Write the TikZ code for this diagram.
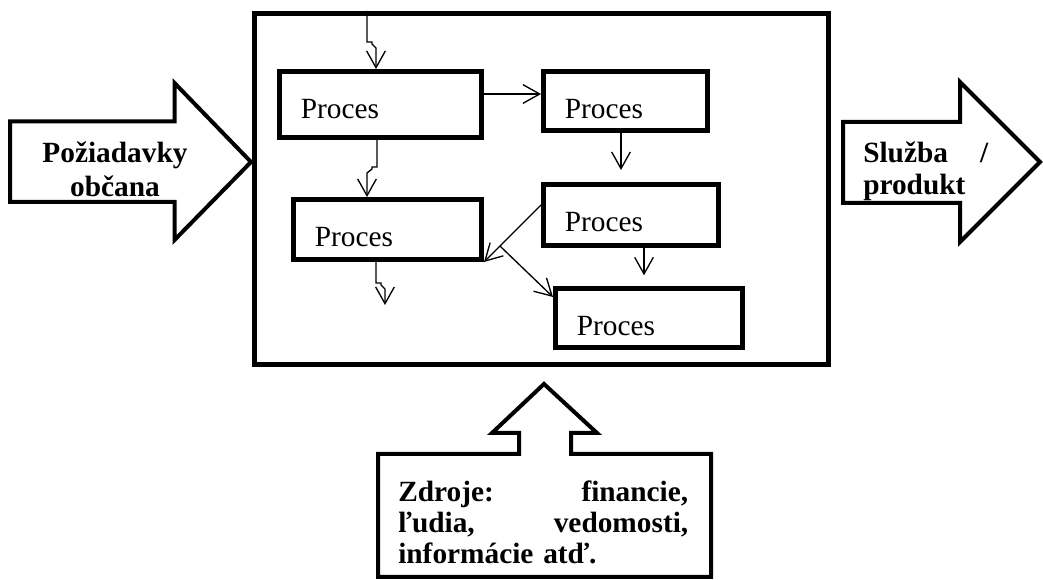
\documentclass[tikz,border=0pt]{standalone}
\usepackage{fontspec}
\setmainfont{Liberation Serif}
\usetikzlibrary{arrows.meta}

\begin{document}
\begin{tikzpicture}[x=0.75pt,y=0.75pt,yscale=-1,xscale=1,
  proces/.style={draw, line width=3.75pt, anchor=north west, inner xsep=16pt, inner ysep=0pt, text height=35pt, text depth=10pt, align=left, font=\fontsize{22}{26}\selectfont},
  flow/.style={line width=1pt, line join=miter, -{Straight Barb[length=12.5pt,width=14pt]}},
  bigarrow/.style={line width=3pt, line join=miter, fill=white},
  tag/.style={inner sep=0pt, align=left, font=\bfseries\fontsize{22}{#1}\selectfont}
]
\useasboundingbox (0,0) rectangle (1043,580);

%Shape: Rectangle
\node [draw, line width=3.75pt, anchor=north west, inner sep=0pt, minimum width=430.5pt, minimum height=263.25pt] (system) at (252,11) {};

%Shape: Rectangle
\node [proces, text width=119.5pt, text depth=14.5pt] (p1) at (277,69) {Proces};
%Shape: Rectangle
\node [proces, text width=91pt, text depth=9.25pt] (p2) at (541,69) {Proces};
%Shape: Rectangle
\node [proces, text width=109pt] (p3) at (291,197) {Proces};
%Shape: Rectangle
\node [proces, text width=99.25pt, text depth=10.75pt] (p4) at (541,182) {Proces};
%Shape: Rectangle
\node [proces, text width=108.6pt, text depth=9.25pt] (p5) at (553,286) {Proces};

%Straight Lines
\draw [flow] (system.north -| 367,0) -- (367,42) -- (372,42) -- (372,44) -- (376,48) -- (p1.north -| 376,0);
%Straight Lines
\draw [flow] (p1.east |- 0,94) -- (p2.west |- 0,94);
%Straight Lines
\draw [flow] (p1.south -| 377,0) -- (377,167) -- (372,167) -- (372,169) -- (367,173) -- (p3.north -| 367,0);
%Straight Lines
\coordinate (out3) at (385,305);
\draw [flow] (p3.south -| 376,0) -- (376,283) -- (381,283) -- (381,285) -- (385,289) -- (out3);
%Straight Lines
\draw [flow, shorten >=9pt] (p2.south -| 621,0) -- (p4.north -| 621,0);
%Straight Lines
\draw [flow, shorten >=8pt] (p4.south -| 644,0) -- (p5.north -| 644,0);
%Straight Lines
\draw [flow] (p4.west |- 0,205) -- coordinate[pos=0.72] (fork) (p3.south east);
\draw [flow] (fork) -- (p5.west |- 0,297);

%Shape: Right Arrow
\draw [bigarrow] (10,121.5) -- (174.5,121.5) -- (174.5,83) -- (251,162) -- (174.5,240) -- (174.5,202) -- (10,202) -- cycle;
%Shape: Right Arrow
\draw [bigarrow] (843,122) -- (960,122) -- (960,82) -- (1040,162) -- (960,242) -- (960,203) -- (843,203) -- cycle;
%Shape: Up Arrow Callout
\draw [bigarrow] (378,454) -- (519,454) -- (519,433) -- (492,433) -- (544,384) -- (597,433) -- (571,433) -- (571,454) -- (711,454) -- (711,577) -- (378,577) -- cycle;

% Text Node
\node [tag=25.5pt, text width=120pt, align=center, anchor=base] (demand) at (115,163) {Požiadavky\\občana};
% Text Node
\node [tag=24pt, text width=93.75pt, anchor=base west] (result) at (863,163) {Služba \hfill /\\produkt};
% Text Node
\node [tag=23.25pt, text width=217.5pt, anchor=base west] (resources) at (398,502) {Zdroje: \hfill financie,\\ľudia, \hfill vedomosti,\\informácie atď.};

\end{tikzpicture}
\end{document}
